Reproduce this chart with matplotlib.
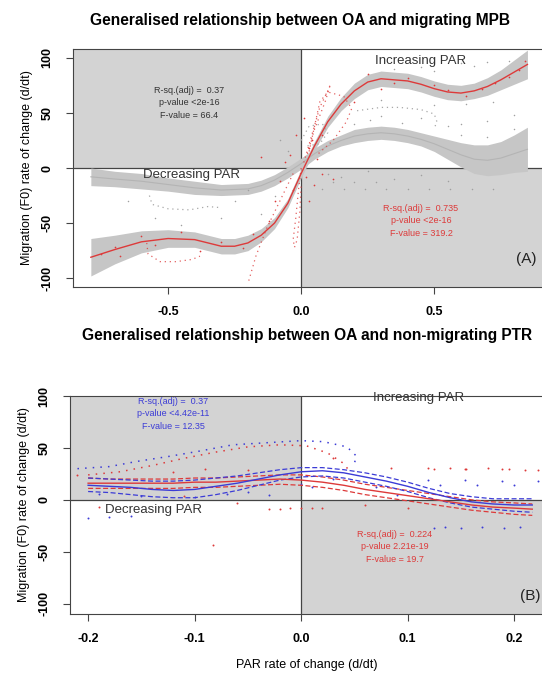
import matplotlib
matplotlib.use("Agg")
import matplotlib.pyplot as plt
import numpy as np

plt.rcParams['font.family'] = ['Liberation Sans', 'DejaVu Sans']

# ---------------- panel A data (migrating MPB) ----------------
a_fit_x = [-0.79, -0.7, -0.6, -0.5, -0.4, -0.3, -0.25, -0.2, -0.15, -0.1, -0.05, 0.0,
           0.05, 0.1, 0.15, 0.2, 0.25, 0.3, 0.35, 0.4, 0.45, 0.5, 0.55, 0.6, 0.65,
           0.7, 0.75, 0.8, 0.85]
a_fit_y = [-81, -74, -67, -64, -65, -71, -71, -68, -61, -50, -32, -5,
           20, 42, 58, 70, 78, 81, 80, 79, 76, 72, 69, 68, 70,
           74, 80, 87, 94]
a_fit_se = [17, 13, 10, 8, 7, 7, 7, 7, 6, 5, 4, 4,
            4, 5, 6, 7, 7, 7, 7, 7, 7, 7, 7, 7, 7,
            8, 9, 11, 13]

a_alt_x = [-0.79, -0.7, -0.6, -0.5, -0.4, -0.3, -0.2, -0.15, -0.1, -0.05, 0.0,
           0.05, 0.1, 0.15, 0.2, 0.25, 0.3, 0.35, 0.4, 0.45, 0.5, 0.55, 0.6,
           0.65, 0.7, 0.75, 0.8, 0.85]
a_alt_y = [-8, -10, -12, -15, -18, -20, -19, -16, -11, -4, 4,
           13, 20, 25, 29, 31, 32, 31, 29, 26, 22, 17, 12,
           8, 7, 9, 13, 17]
a_alt_se = [8, 7, 7, 6, 6, 5, 5, 5, 5, 5, 5,
            5, 5, 5, 6, 6, 6, 6, 6, 6, 7, 9, 11,
            13, 14, 15, 17, 20]

# dotted tracks (red)
a_trk1_x = [0.0, -0.01, -0.02, -0.03, -0.025, -0.015, -0.005, 0.0]
a_trk1_y = [0, -20, -45, -65, -72, -65, -40, -15]
a_trk2_x = [-0.03, -0.08, -0.13, -0.17, -0.2]
a_trk2_y = [-5, -30, -55, -80, -105]
a_trk3_x = [-0.58, -0.575, -0.53, -0.47, -0.41, -0.38]
a_trk3_y = [-68, -78, -85, -85, -83, -80]
a_trk4_x = [0.01, 0.04, 0.07, 0.1, 0.11, 0.09, 0.05, 0.02]
a_trk4_y = [5, 30, 55, 70, 76, 60, 35, 10]
a_trk5_x = [0.03, 0.07, 0.1, 0.16, 0.19, 0.17, 0.12, 0.06]
a_trk5_y = [15, 60, 69, 65, 54, 42, 25, 12]
# dotted tracks (grey)
a_gtr1_x = [-0.57, -0.56, -0.5, -0.42, -0.35, -0.3]
a_gtr1_y = [-25, -33, -37, -38, -35, -36]
a_gtr2_x = [0.21, 0.3, 0.37, 0.45, 0.5, 0.51, 0.5]
a_gtr2_y = [52, 55, 55, 53, 49, 42, 36]
a_gtr3_x = [0.0, 0.03, 0.08, 0.1, 0.07, 0.02]
a_gtr3_y = [25, 38, 40, 32, 22, 20]

a_red_x = [-0.75, -0.7, -0.68, -0.6, -0.55, -0.45, -0.38, -0.3, -0.22, -0.18, -0.12,
           -0.08, -0.06, -0.04, -0.03, 0.01, 0.02, 0.03, 0.04, 0.05, 0.06, 0.08,
           0.25, 0.35, 0.4, 0.5, 0.55, 0.62, 0.68, 0.73, 0.78, 0.82, 0.84, 0.08,
           0.12, 0.2, 0.3, -0.1, -0.15, 0.03, -0.02]
a_red_y = [-78, -72, -80, -62, -70, -58, -75, -67, -73, -60, -48,
           -12, 5, 12, -20, 45, -8, 18, 25, -15, 8, -5,
           85, 77, 82, 75, 71, 65, 72, 77, 83, 89, 97, 30,
           -10, 60, 72, -30, 10, -30, 30]
a_grey_x = [0.2, 0.26, 0.3, 0.38, 0.45, 0.55, 0.6, 0.7, 0.8, 0.5, 0.62, 0.72, 0.3,
            0.45, 0.6, 0.65, 0.7, 0.78, 0.5, 0.35, 0.1, 0.15, 0.25, 0.35, 0.45,
            0.55, -0.65, -0.55, -0.45, -0.3, -0.25, -0.15, -0.1, -0.2, 0.08,
            0.16, 0.24, 0.32, 0.4, 0.48, 0.56, 0.64, 0.72, 0.12, 0.2, 0.28,
            0.6, 0.7, 0.8, -0.05, -0.08]
a_grey_y = [40, 44, 47, 41, 45, 38, 40, 43, 48, 57, 58, 60, 62,
            92, 95, 93, 96, 97, 88, 90, -5, -8, -3, -10, -6,
            -12, -30, -45, -52, -45, -30, -42, -25, -20, -19,
            -19, -19, -19, -19, -19, -19, -19, -19, -13, -13, -13,
            30, 28, 35, 15, 25]

# ---------------- panel B data (non-migrating PTR) ----------------
b_x = [-0.2, -0.18, -0.16, -0.14, -0.12, -0.1, -0.08, -0.06, -0.04, -0.02, 0.0,
       0.02, 0.04, 0.06, 0.08, 0.1, 0.12, 0.14, 0.16, 0.18, 0.2, 0.217]
b_blue = [14, 13, 12, 10, 9, 10, 13, 16, 20, 24, 27, 28, 26, 22, 18, 13, 7, 2, -2, -4, -5, -5]
b_blue_hi = [21, 20, 19, 18, 18, 19, 21, 23, 26, 29, 31, 31, 29, 26, 22, 17, 11, 6, 3, 1, 1, 1]
b_blue_lo = [8, 7, 5, 3, 2, 2, 5, 9, 14, 19, 22, 23, 21, 17, 13, 8, 2, -3, -7, -9, -11, -12]
b_red = [16, 16, 16, 16, 16, 17, 17, 18, 19, 20, 19, 17, 14, 10, 7, 4, 1, -2, -5, -7, -8, -9]
b_red_hi = [21, 20, 20, 20, 20, 21, 21, 22, 23, 24, 24, 22, 19, 15, 12, 9, 6, 3, 0, -2, -3, -4]
b_red_lo = [11, 11, 11, 11, 11, 12, 12, 13, 14, 15, 14, 12, 9, 5, 2, -1, -4, -7, -10, -12, -14, -15]

b_barc_x = [-0.21, -0.18, -0.154, -0.123, -0.095, -0.064, -0.032, 0.0, 0.021, 0.043, 0.052, 0.049]
b_barc_y = [30, 32, 37, 42, 47, 53, 55, 57, 56, 51, 42, 32]
b_rarc_x = [-0.2, -0.17, -0.14, -0.11, -0.08, -0.05, -0.02, 0.005, 0.025, 0.04, 0.045]
b_rarc_y = [24, 27, 33, 40, 46, 51, 53, 52, 45, 35, 28]

b_bdot_x = [0.119, 0.154, 0.189, 0.222, 0.13, 0.165, 0.2, 0.125, 0.135, 0.15, 0.17,
            0.19, 0.205, -0.2, -0.18, -0.16, -0.05, -0.03, 0.01, 0.03, -0.1, -0.07,
            0.07, 0.09, -0.19, -0.15, 0.0]
b_bdot_y = [19, 19, 18, 18, 14, 14, 14, -27, -26, -27, -26,
            -27, -26, -18, -17, -16, 8, 5, 12, 20, 3, 6,
            12, 5, 6, 4, 15]
b_rdot_x = [0.084, 0.119, 0.154, 0.189, 0.222, 0.125, 0.14, 0.155, 0.175, 0.195,
            0.21, -0.083, -0.03, -0.02, -0.01, 0.0, 0.01, 0.02, -0.12, -0.09,
            -0.05, -0.19, -0.21, 0.06, 0.1, -0.06, -0.11, 0.03]
b_rdot_y = [31, 31, 30, 30, 29, 30, 31, 30, 31, 30,
            29, -44, -9, -9, -8, -8, -8, -8, 27, 30,
            29, -7, 24, -5, -8, -3, 4, 40]

# ---------------- styling ----------------
SHADE = '#d3d3d3'
BAND = '#c6c6c6'
RED = '#dd3a3a'
BLUE = '#3c3cd6'
AXC = '#444444'


def base_axes(fig, rect, xlim, ylim, xticks, xlabels):
    ax = fig.add_axes(rect)
    ax.set_xlim(*xlim)
    ax.set_ylim(*ylim)
    ax.fill_between([xlim[0], 0], 0, ylim[1], color=SHADE, lw=0, zorder=0)
    ax.fill_between([0, xlim[1]], ylim[0], 0, color=SHADE, lw=0, zorder=0)
    ax.axhline(0, color=AXC, lw=0.9, zorder=1)
    ax.axvline(0, color=AXC, lw=0.9, zorder=1)
    ax.set_xticks(xticks)
    ax.set_xticklabels(xlabels, fontweight='bold', fontsize=9)
    ax.set_yticks([-100, -50, 0, 50, 100])
    ax.set_yticklabels(['-100', '-50', '0', '50', '100'], fontweight='bold',
                       fontsize=9, rotation=90, va='center')
    ax.tick_params(direction='out', length=5, width=0.8, color=AXC, pad=9)
    for s in ['left', 'bottom', 'top']:
        ax.spines[s].set_color(AXC)
        ax.spines[s].set_linewidth(0.8)
    ax.spines['right'].set_visible(False)
    ax.set_ylabel('Migration (F0) rate of change (d/dt)', fontsize=9, labelpad=6)
    return ax


fig = plt.figure(figsize=(5.42, 6.75), dpi=100)

# ---- panel A ----
ax1 = base_axes(fig, [73 / 542, 1 - 287 / 675, 472 / 542, 238 / 675],
                (-0.857, 0.916), (-108, 108), [-0.5, 0.0, 0.5], ['-0.5', '0.0', '0.5'])
ax1.set_title('Generalised relationship between OA and migrating MPB',
              fontweight='bold', fontsize=11.2, pad=17, x=0.48)

alt_lo = np.array(a_alt_y) - np.array(a_alt_se)
alt_hi = np.array(a_alt_y) + np.array(a_alt_se)
ax1.fill_between(a_alt_x, alt_lo, alt_hi, color=BAND, lw=0, zorder=2)
ax1.plot(a_alt_x, a_alt_y, color='#b4b4b4', lw=0.8, zorder=3)
fit_lo = np.array(a_fit_y) - np.array(a_fit_se)
fit_hi = np.array(a_fit_y) + np.array(a_fit_se)
ax1.fill_between(a_fit_x, fit_lo, fit_hi, color=BAND, lw=0, zorder=2)

for tx, ty in [(a_gtr1_x, a_gtr1_y), (a_gtr2_x, a_gtr2_y), (a_gtr3_x, a_gtr3_y)]:
    ax1.plot(tx, ty, color='#a8a8a8', lw=0.9, ls=(0, (1, 3)), zorder=3)
for tx, ty in [(a_trk1_x, a_trk1_y), (a_trk2_x, a_trk2_y), (a_trk3_x, a_trk3_y),
               (a_trk4_x, a_trk4_y), (a_trk5_x, a_trk5_y)]:
    ax1.plot(tx, ty, color=RED, lw=0.9, ls=(0, (1, 3)), alpha=0.8, zorder=3)
ax1.scatter(a_grey_x, a_grey_y, s=1.2, color='#a0a0a0', lw=0, zorder=3)
ax1.scatter(a_red_x, a_red_y, s=1.5, color=RED, lw=0, zorder=3)
ax1.plot(a_fit_x, a_fit_y, color=RED, lw=1.0, zorder=4)

ax1.text(0.45, 97, 'Increasing PAR', ha='center', va='center', fontsize=9.5, color='#333333')
ax1.text(-0.41, -6, 'Decreasing PAR', ha='center', va='center', fontsize=9.5, color='#333333')
ax1.text(-0.42, 59, 'R-sq.(adj) =  0.37\np-value <2e-16\nF-value = 66.4',
         ha='center', va='center', fontsize=6.5, color='#333333', linespacing=1.5)
ax1.text(0.45, -48, 'R-sq.(adj) =  0.735\np-value <2e-16\nF-value = 319.2',
         ha='center', va='center', fontsize=6.5, color=RED, linespacing=1.5)
ax1.text(0.885, -83, '(A)', ha='right', va='center', fontsize=11, color='#222222')

# ---- panel B ----
ax2 = base_axes(fig, [70 / 542, 1 - 614 / 675, 474 / 542, 218 / 675],
                (-0.217, 0.228), (-110, 100), [-0.2, -0.1, 0.0, 0.1, 0.2],
                ['-0.2', '-0.1', '0.0', '0.1', '0.2'])
ax2.set_title('Generalised relationship between OA and non-migrating PTR',
              fontweight='bold', fontsize=11.2, pad=40, x=0.5)
ax2.set_xlabel('PAR rate of change (d/dt)', fontsize=9, labelpad=10)

ax2.plot(b_barc_x, b_barc_y, color=BLUE, lw=1.1, ls=(0, (1, 4)), zorder=3)
ax2.plot(b_rarc_x, b_rarc_y, color=RED, lw=1.1, ls=(0, (1, 4)), zorder=3)
ax2.scatter(b_bdot_x, b_bdot_y, s=2, color=BLUE, lw=0, zorder=3)
ax2.scatter(b_rdot_x, b_rdot_y, s=2, color=RED, lw=0, zorder=3)
ax2.plot(b_x, b_red_hi, color=RED, lw=0.9, ls=(0, (4, 2)), zorder=4)
ax2.plot(b_x, b_red_lo, color=RED, lw=0.9, ls=(0, (4, 2)), zorder=4)
ax2.plot(b_x, b_blue_hi, color=BLUE, lw=0.9, ls=(0, (4, 2)), zorder=4)
ax2.plot(b_x, b_blue_lo, color=BLUE, lw=0.9, ls=(0, (4, 2)), zorder=4)
ax2.plot(b_x, b_red, color=RED, lw=1.0, zorder=5)
ax2.plot(b_x, b_blue, color=BLUE, lw=1.0, zorder=5)

ax2.text(0.11, 98, 'Increasing PAR', ha='center', va='center', fontsize=9.5, color='#333333')
ax2.text(-0.139, -10, 'Decreasing PAR', ha='center', va='center', fontsize=9.5, color='#333333')
ax2.text(-0.12, 83, 'R-sq.(adj) =  0.37\np-value <4.42e-11\nF-value = 12.35',
         ha='center', va='center', fontsize=6.5, color=BLUE, linespacing=1.5)
ax2.text(0.088, -45, 'R-sq.(adj) =  0.224\np-value 2.21e-19\nF-value = 19.7',
         ha='center', va='center', fontsize=6.5, color=RED, linespacing=1.5)
ax2.text(0.225, -93, '(B)', ha='right', va='center', fontsize=11, color='#222222')

fig.savefig('out.png', dpi=100)
